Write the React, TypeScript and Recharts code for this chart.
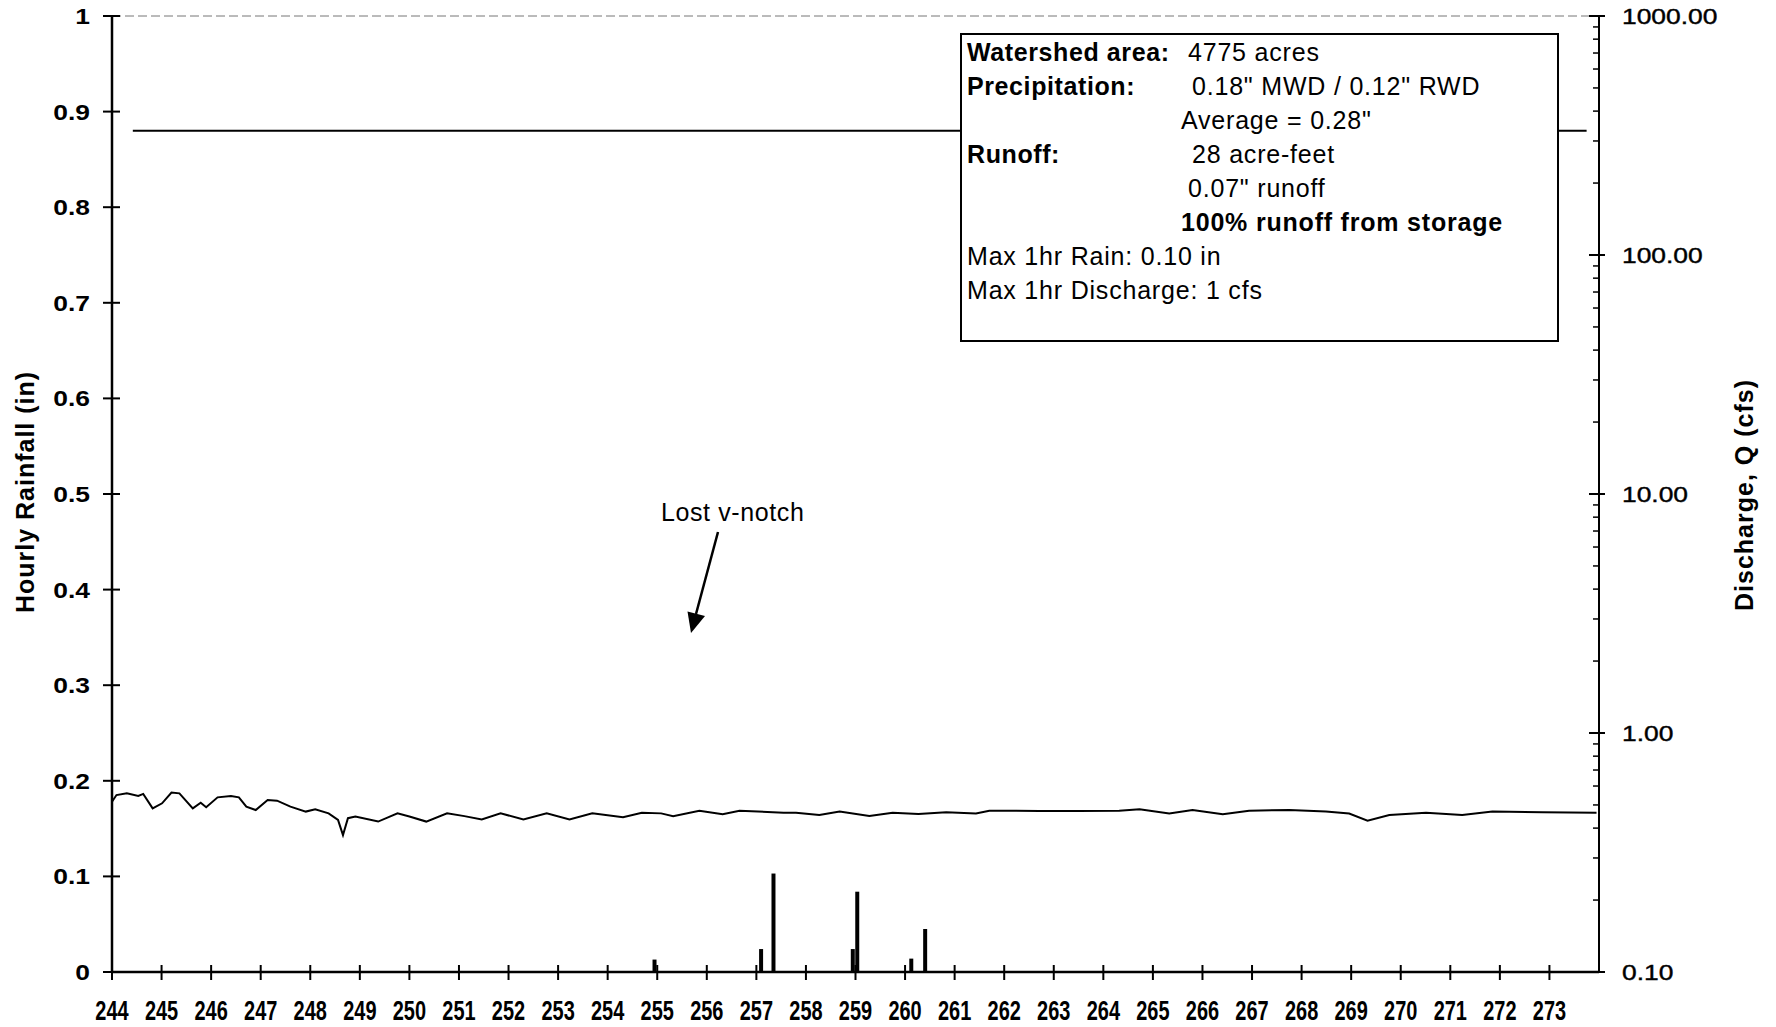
import React from 'react';
import { ComposedChart, Line, Bar, XAxis, YAxis, ReferenceLine } from 'recharts';

// day-of-year ticks along the bottom
const dayTicks = [
  244, 245, 246, 247, 248, 249, 250, 251, 252, 253, 254, 255, 256, 257, 258,
  259, 260, 261, 262, 263, 264, 265, 266, 267, 268, 269, 270, 271, 272, 273,
];
const rainTicks = [0, 0.1, 0.2, 0.3, 0.4, 0.5, 0.6, 0.7, 0.8, 0.9, 1];
const flowTicks = [
  0.1, 0.2, 0.3, 0.4, 0.5, 0.6, 0.7, 0.8, 0.9,
  1, 2, 3, 4, 5, 6, 7, 8, 9,
  10, 20, 30, 40, 50, 60, 70, 80, 90,
  100, 200, 300, 400, 500, 600, 700, 800, 900,
  1000,
];

// discharge (cfs), right log axis
const flowDay = [
  244.0, 244.09, 244.3, 244.53, 244.63, 244.82, 245.01, 245.2, 245.36, 245.63,
  245.79, 245.9, 246.13, 246.4, 246.56, 246.71, 246.9, 247.14, 247.33, 247.6,
  247.91, 248.1, 248.37, 248.56, 248.66, 248.76, 248.91, 249.37, 249.76, 250.0,
  250.34, 250.76, 251.11, 251.46, 251.84, 252.3, 252.77, 253.23, 253.69, 254.31,
  254.69, 255.08, 255.32, 255.85, 256.32, 256.66, 257.55, 257.8, 258.27, 258.68,
  259.28, 259.75, 260.27, 260.83, 261.43, 261.7, 262.71, 263.5, 264.32, 264.73,
  265.33, 265.8, 266.41, 266.94, 267.75, 268.49, 268.96, 269.33, 269.77, 270.51,
  271.24, 271.85, 272.86, 273.95,
];
const flowCfs = [
  0.516, 0.55, 0.559, 0.545, 0.556, 0.484, 0.508, 0.563, 0.559, 0.484,
  0.511, 0.489, 0.538, 0.545, 0.538, 0.492, 0.476, 0.524, 0.521, 0.492,
  0.469, 0.48, 0.461, 0.433, 0.374, 0.44, 0.447, 0.426, 0.461, 0.447,
  0.426, 0.461, 0.449, 0.435, 0.461, 0.435, 0.461, 0.435, 0.461, 0.444,
  0.464, 0.461, 0.449, 0.473, 0.457, 0.473, 0.464, 0.464, 0.454, 0.469,
  0.449, 0.464, 0.458, 0.466, 0.46, 0.473, 0.472, 0.472, 0.473, 0.48,
  0.46, 0.476, 0.457, 0.473, 0.476, 0.469, 0.46, 0.43, 0.454, 0.464,
  0.454, 0.469, 0.466, 0.464,
];

// hourly rainfall (in), left axis
const rainDay = [254.95, 257.1, 257.35, 258.95, 259.04, 260.13, 260.41];
const rainIn = [0.013, 0.024, 0.103, 0.024, 0.084, 0.014, 0.045];

// flat line near the top
const levelDay = [244.42, 273.75];
const levelIn = [0.88, 0.88];

type Row = { day: number; flow?: number; rain?: number; level?: number };

const byDay = new Map<number, Row>();
const put = (day: number, key: 'flow' | 'rain' | 'level', v: number) => {
  const r = byDay.get(day) || { day };
  r[key] = v;
  byDay.set(day, r);
};
flowDay.forEach((d, i) => put(d, 'flow', flowCfs[i]));
rainDay.forEach((d, i) => put(d, 'rain', rainIn[i]));
levelDay.forEach((d, i) => put(d, 'level', levelIn[i]));
const rows = Array.from(byDay.values()).sort((a, b) => a.day - b.day);

const FONT = '"Liberation Sans", Arial, sans-serif';

function RainTick({ x, y, payload }: any) {
  const v = payload.value as number;
  const label = String(Math.round(v * 10) / 10);
  return (
    <g>
      <line x1={x - 9} x2={x + 8} y1={y} y2={y} stroke="#000" strokeWidth={2} />
      <text
        transform={`translate(${x - 22},${y}) scale(1.2,1)`}
        textAnchor="end" dy="0.36em" fontSize={22} fontWeight="bold"
        fontFamily={FONT} fill="#000"
      >
        {label}
      </text>
    </g>
  );
}

function FlowTick({ x, y, payload }: any) {
  const v = payload.value as number;
  const lg = Math.log10(v);
  const major = Math.abs(lg - Math.round(lg)) < 1e-6;
  if (!major) {
    return <line x1={x - 6} x2={x} y1={y} y2={y} stroke="#000" strokeWidth={1.5} />;
  }
  return (
    <g>
      <line x1={x - 10} x2={x + 6} y1={y} y2={y} stroke="#000" strokeWidth={2} />
      <text
        transform={`translate(${x + 23},${y}) scale(1.2,1)`}
        textAnchor="start" dy="0.36em" fontSize={22}
        fontFamily={FONT} fill="#000" stroke="#000" strokeWidth={0.4}
      >
        {v.toFixed(2)}
      </text>
    </g>
  );
}

function DayTick({ x, y, payload }: any) {
  return (
    <g>
      <line x1={x} x2={x} y1={y - 7} y2={y + 8} stroke="#000" strokeWidth={2} />
      <text
        transform={`translate(${x},${y + 38}) scale(0.74,1)`}
        textAnchor="middle" dy="0.36em" fontSize={27} fontWeight="bold"
        fontFamily={FONT} fill="#000"
      >
        {payload.value}
      </text>
    </g>
  );
}

function AxisTitle({ viewBox, text, cx, cy, spacing }: any) {
  const { x, y, width, height } = viewBox;
  const tx = x + cx * width;
  const ty = y + height / 2 + cy;
  return (
    <text
      transform={`translate(${tx},${ty}) rotate(-90)`}
      textAnchor="middle" dy="0.36em" fontSize={25} fontWeight="bold"
      fontFamily={FONT} letterSpacing={spacing} fill="#000"
    >
      {text}
    </text>
  );
}

const noteRows: { label?: string; value: string; at: number; bold?: boolean }[] = [
  { label: 'Watershed area:', value: '4775 acres', at: 226 },
  { label: 'Precipitation:', value: '0.18" MWD / 0.12" RWD', at: 230 },
  { value: 'Average = 0.28"', at: 219 },
  { label: 'Runoff:', value: '28 acre-feet', at: 230 },
  { value: '0.07" runoff', at: 226 },
  { value: '100% runoff from storage', at: 219, bold: true },
  { value: 'Max 1hr Rain: 0.10 in', at: 5 },
  { value: 'Max 1hr Discharge: 1 cfs', at: 5 },
];

export default function App() {
  return (
    <div style={{ position: 'absolute', left: 0, top: 0, width: 1776, height: 1027, background: '#fff' }}>
      <ComposedChart width={1776} height={1027} data={rows} margin={{ top: 16, right: 0, bottom: 0, left: 0 }}>
        <XAxis
          dataKey="day" type="number" domain={[244, 274]} ticks={dayTicks}
          allowDataOverflow interval={0} height={55} tickSize={0} tickMargin={0}
          tickLine={false} axisLine={{ stroke: '#000', strokeWidth: 2.5 }}
          tick={(p: any) => <DayTick {...p} />}
        />
        <YAxis
          yAxisId="rain" domain={[0, 1]} ticks={rainTicks} interval={0} width={112}
          tickSize={0} tickMargin={0} tickLine={false}
          axisLine={{ stroke: '#000', strokeWidth: 2.5 }}
          tick={(p: any) => <RainTick {...p} />}
          label={{ content: (p: any) => <AxisTitle {...p} text="Hourly Rainfall (in)" cx={0.225} cy={-2} spacing={1} /> }}
        />
        <YAxis
          yAxisId="flow" orientation="right" scale="log" domain={[0.1, 1000]}
          ticks={flowTicks} interval={0} width={177} allowDataOverflow
          tickSize={0} tickMargin={0} tickLine={false}
          axisLine={{ stroke: '#000', strokeWidth: 2 }}
          tick={(p: any) => <FlowTick {...p} />}
          label={{ content: (p: any) => <AxisTitle {...p} text="Discharge, Q (cfs)" cx={0.82} cy={1} spacing={1} /> }}
        />
        <ReferenceLine yAxisId="rain" y={1} stroke="#777" strokeWidth={1} strokeDasharray="9 4" />
        <Bar yAxisId="rain" dataKey="rain" fill="#000" barSize={4} isAnimationActive={false} />
        <Line
          yAxisId="flow" dataKey="flow" type="linear" stroke="#000" strokeWidth={2}
          dot={false} connectNulls isAnimationActive={false}
        />
        <Line
          yAxisId="rain" dataKey="level" type="linear" stroke="#000" strokeWidth={2}
          dot={false} connectNulls isAnimationActive={false}
        />
      </ComposedChart>

      <svg width={1776} height={1027} style={{ position: 'absolute', left: 0, top: 0, pointerEvents: 'none' }}>
        <text x={661} y={512} dy="0.36em" fontSize={25} fontFamily={FONT} letterSpacing={0.6} fill="#000">
          Lost v-notch
        </text>
        <line x1={718} y1={532} x2={696} y2={614} stroke="#000" strokeWidth={2.5} />
        <polygon points="691,633 705,616 687.5,611.4" fill="#000" />
      </svg>

      <div
        style={{
          position: 'absolute', left: 960, top: 33, width: 599, height: 309,
          boxSizing: 'border-box', border: '2px solid #000', background: '#fff',
          fontFamily: FONT, fontSize: 25, letterSpacing: 0.8, color: '#000',
        }}
      >
        {noteRows.map((r, i) => (
          <div key={i} style={{ position: 'relative', height: 34, lineHeight: '34px', whiteSpace: 'nowrap' }}>
            {r.label && <span style={{ position: 'absolute', left: 5, fontWeight: 'bold', letterSpacing: 0.6 }}>{r.label}</span>}
            <span style={{ position: 'absolute', left: r.at, fontWeight: r.bold ? 'bold' : 'normal' }}>{r.value}</span>
          </div>
        ))}
      </div>
    </div>
  );
}
